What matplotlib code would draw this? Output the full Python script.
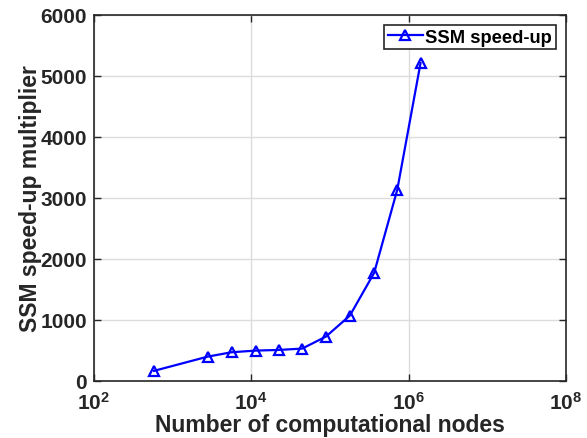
import numpy as np
import matplotlib
matplotlib.use("Agg")
import matplotlib.pyplot as plt
from matplotlib.ticker import FixedLocator, LogFormatterMathtext, NullLocator

# values
nodes = [580, 2790, 5620, 11350, 22490, 44400, 88900, 179500, 365000, 718000, 1420000]
speedup = [165, 398, 470, 497, 508, 530, 726, 1071, 1770, 3131, 5208]

x_ticks = [1e2, 1e4, 1e6, 1e8]
y_ticks = [0, 1000, 2000, 3000, 4000, 5000, 6000]

plt.rcParams['font.family'] = ['Liberation Sans', 'DejaVu Sans']
plt.rcParams['font.weight'] = 'bold'
plt.rcParams['mathtext.fontset'] = 'custom'
plt.rcParams['mathtext.rm'] = 'Liberation Sans:bold'
plt.rcParams['mathtext.it'] = 'Liberation Sans:bold'
plt.rcParams['mathtext.bf'] = 'Liberation Sans:bold'
plt.rcParams['mathtext.default'] = 'bf'

dark = '#262626'

fig = plt.figure(figsize=(5.87, 4.39), dpi=100)
ax = fig.add_axes([0.160, 0.130, 0.804, 0.834])

ax.plot(nodes, speedup, color='blue', linewidth=1.6, marker='^',
        markersize=7, markerfacecolor='none', markeredgewidth=1.6,
        label='SSM speed-up')

ax.set_xscale('log')
ax.set_xlim(1e2, 1e8)
ax.set_ylim(0, 6000)
ax.xaxis.set_major_locator(FixedLocator(x_ticks))
ax.xaxis.set_major_formatter(LogFormatterMathtext())
ax.xaxis.set_minor_locator(NullLocator())
ax.set_yticks(y_ticks)

ax.grid(True, color='#dcdcdc', linewidth=1.0)
ax.set_axisbelow(True)

for s in ax.spines.values():
    s.set_color(dark)
    s.set_linewidth(1.2)

ax.tick_params(direction='in', top=True, right=True, length=5, width=1.0,
               colors=dark, labelsize=15, labelcolor=dark)
ax.tick_params(axis='x', pad=7)
ax.tick_params(axis='y', pad=5)
for lab in ax.get_xticklabels() + ax.get_yticklabels():
    lab.set_fontweight('bold')

ax.set_xlabel('Number of computational nodes', fontsize=16.5, fontweight='bold',
              color=dark, labelpad=0)
ax.set_ylabel('SSM speed-up multiplier', fontsize=16.5, fontweight='bold',
              color=dark, labelpad=-1)

leg = ax.legend(loc='upper right', frameon=True, fancybox=False,
                edgecolor=dark, handlelength=1.9, handletextpad=0.15,
                borderpad=0.2, borderaxespad=0.55, framealpha=1,
                prop={'weight': 'bold', 'size': 13.2})
leg.get_frame().set_linewidth(1.2)

fig.savefig('out.png', dpi=100)
